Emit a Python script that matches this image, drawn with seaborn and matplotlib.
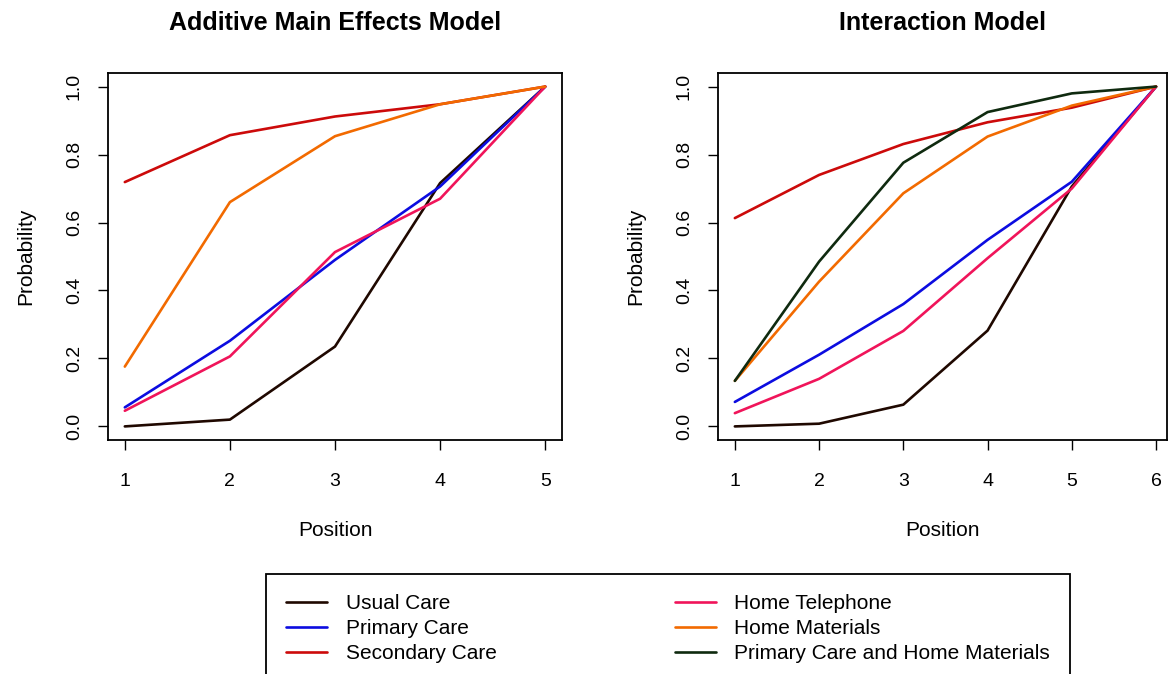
import numpy as np
import pandas as pd
import matplotlib
matplotlib.use("Agg")
import matplotlib.pyplot as plt
import seaborn as sns

# groups in legend order
groups = ['Usual Care', 'Primary Care', 'Secondary Care',
          'Home Telephone', 'Home Materials', 'Primary Care and Home Materials']
colors = ['#1f0800', '#0c0ce0', '#cc0a0a', '#f0145a', '#f26a00', '#0f2a0f']

# additive main effects model
pos_add = [1, 2, 3, 4, 5]
usual_add = [0.0, 0.02, 0.235, 0.716, 1.0]
primary_add = [0.056, 0.252, 0.49, 0.706, 1.0]
secondary_add = [0.719, 0.857, 0.912, 0.948, 1.0]
phone_add = [0.046, 0.206, 0.513, 0.67, 1.0]
materials_add = [0.176, 0.66, 0.854, 0.948, 1.0]

# interaction model
pos_int = [1, 2, 3, 4, 5, 6]
usual_int = [0.0, 0.008, 0.064, 0.282, 0.706, 1.0]
primary_int = [0.072, 0.211, 0.36, 0.549, 0.72, 1.0]
secondary_int = [0.613, 0.74, 0.831, 0.895, 0.938, 1.0]
phone_int = [0.039, 0.14, 0.281, 0.495, 0.70, 1.0]
materials_int = [0.134, 0.426, 0.686, 0.853, 0.944, 1.0]
combo_int = [0.134, 0.485, 0.776, 0.925, 0.98, 1.0]


def long_df(pos, series):
    rows = []
    for name, vals in series.items():
        for p, v in zip(pos, vals):
            rows.append({'Position': p, 'Probability': v, 'group': name})
    return pd.DataFrame(rows)


df_add = long_df(pos_add, dict(zip(groups[:5], [usual_add, primary_add, secondary_add,
                                                   phone_add, materials_add])))
df_int = long_df(pos_int, dict(zip(groups, [usual_int, primary_int, secondary_int,
                                            phone_int, materials_int, combo_int])))

sns.set_style("white")
plt.rcParams['font.family'] = ['Liberation Sans', 'DejaVu Sans']
plt.rcParams['text.color'] = 'black'
plt.rcParams['axes.labelcolor'] = 'black'
plt.rcParams['xtick.color'] = 'black'
plt.rcParams['ytick.color'] = 'black'
palette = dict(zip(groups, colors))

W, H = 1168, 674
fig = plt.figure(figsize=(W / 100, H / 100), dpi=100)
ax1 = fig.add_axes([108 / W, 1 - 440 / H, 454 / W, 367 / H])
ax2 = fig.add_axes([718 / W, 1 - 440 / H, 449 / W, 367 / H])

lw = 1.9
sns.lineplot(ax=ax1, data=df_add, x='Position', y='Probability', hue='group',
             hue_order=groups[:5], palette=palette, linewidth=lw, legend=False)
sns.lineplot(ax=ax2, data=df_int, x='Position', y='Probability', hue='group',
             hue_order=groups, palette=palette, linewidth=lw, legend=True)

handles, labels = ax2.get_legend_handles_labels()
ax2.get_legend().remove()

for ax, title, pos in [(ax1, 'Additive Main Effects Model', pos_add),
                       (ax2, 'Interaction Model', pos_int)]:
    span = pos[-1] - pos[0]
    ax.set_xlim(pos[0] - 0.04 * span, pos[-1] + 0.04 * span if ax is ax1 else pos[-1] + 0.026 * span)
    ax.set_ylim(-0.04, 1.04)
    ax.set_xticks(pos)
    ax.set_yticks([0, 0.2, 0.4, 0.6, 0.8, 1.0])
    ax.set_yticklabels(['0.0', '0.2', '0.4', '0.6', '0.8', '1.0'], rotation=90, va='center')
    ax.tick_params(axis='both', direction='out', length=7, width=1,
                   labelsize=14, bottom=True, left=True)
    ax.tick_params(axis='x', pad=17)
    ax.tick_params(axis='y', pad=11)
    for s in ax.spines.values():
        s.set_color('black')
        s.set_linewidth(1.3)
    ax.set_xlabel('Position', fontsize=15, labelpad=22)
    ax.set_ylabel('Probability', fontsize=15, labelpad=22)
    ax.set_title(title, fontsize=18, fontweight='bold', pad=31)

for h in handles:
    h.set_linewidth(lw)
leg = fig.legend(handles, labels, ncol=2, loc='upper left',
                 bbox_to_anchor=(266 / W, 1 - 574 / H), borderaxespad=0,
                 fontsize=15, frameon=True, fancybox=False, edgecolor='black',
                 framealpha=1, handlelength=2.0, handletextpad=0.87,
                 columnspacing=8.55, labelspacing=0.3, borderpad=0.95)
leg.get_frame().set_linewidth(1.3)

fig.savefig('out.png', dpi=100)
